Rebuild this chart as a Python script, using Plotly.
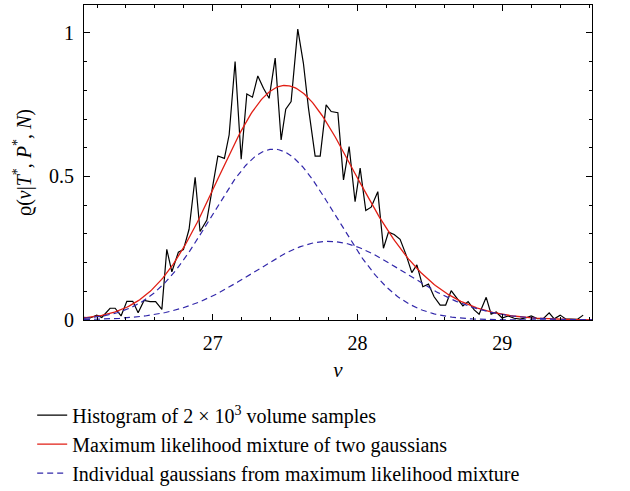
import numpy as np
import plotly.graph_objects as go

# Histogram of volume samples
hist_v = [26.111, 26.152, 26.198, 26.233, 26.290, 26.325, 26.366, 26.406, 26.447, 26.484,
          26.525, 26.567, 26.605, 26.648, 26.682, 26.717, 26.762, 26.797, 26.836, 26.878,
          26.912, 26.959, 27.035, 27.080, 27.113, 27.154, 27.196, 27.235, 27.274, 27.311,
          27.350, 27.389, 27.431, 27.472, 27.504, 27.541, 27.587, 27.626, 27.661, 27.707,
          27.742, 27.783, 27.818, 27.864, 27.903, 27.942, 27.983, 28.018, 28.057, 28.094,
          28.140, 28.179, 28.214, 28.253, 28.294, 28.336, 28.375, 28.410, 28.451, 28.490,
          28.529, 28.571, 28.609, 28.647, 28.686, 28.728, 28.764, 28.806, 28.840, 28.889,
          28.923, 28.958, 28.999, 29.041, 29.082, 29.124, 29.165, 29.200, 29.241, 29.283,
          29.324, 29.359, 29.400, 29.441, 29.476, 29.518, 29.559]
hist_rho = [0.009, 0.007, 0.017, 0.009, 0.041, 0.041, 0.014, 0.065, 0.065, 0.025,
            0.068, 0.064, 0.064, 0.037, 0.246, 0.168, 0.236, 0.245, 0.316, 0.497,
            0.308, 0.348, 0.571, 0.563, 0.645, 0.900, 0.560, 0.787, 0.776, 0.850,
            0.807, 0.772, 0.912, 0.627, 0.734, 0.761, 1.013, 0.894, 0.738, 0.571,
            0.571, 0.749, 0.726, 0.722, 0.488, 0.604, 0.412, 0.529, 0.381, 0.393,
            0.447, 0.250, 0.306, 0.298, 0.281, 0.226, 0.165, 0.192, 0.116, 0.125,
            0.081, 0.052, 0.052, 0.102, 0.076, 0.049, 0.064, 0.035, 0.020, 0.079,
            0.020, 0.028, 0.007, 0.014, 0.006, 0.003, 0.008, 0.014, 0.005, 0.005,
            0.025, 0.004, 0.017, 0.003, 0.003, 0.002, 0.017]

# Maximum-likelihood mixture components (amplitude, mean, sigma)
gauss_amp = [0.595, 0.274]
gauss_mu = [27.42, 27.80]
gauss_sigma = [0.43, 0.52]

x_range = [26.11, 29.62]
y_range = [0, 1.097]
x_ticks = [27, 28, 29]
y_ticks = [0, 0.5, 1]
y_ticklabels = ["0", "0.5", "1"]

v = np.linspace(x_range[0], x_range[1], 400)
comps = [a * np.exp(-(v - m) ** 2 / (2 * s ** 2)) for a, m, s in zip(gauss_amp, gauss_mu, gauss_sigma)]
mix = comps[0] + comps[1]

FONT = "Liberation Serif"
FS = 20
fig = go.Figure()
fig.add_trace(go.Scatter(x=hist_v, y=hist_rho, mode="lines",
                         line=dict(color="black", width=1.2),
                         name="Histogram of 2 × 10<sup>3</sup> volume samples"))
fig.add_trace(go.Scatter(x=v, y=mix, mode="lines",
                         line=dict(color="rgb(225,30,20)", width=1.3),
                         name="Maximum likelihood mixture of two gaussians"))
for i, c in enumerate(comps):
    fig.add_trace(go.Scatter(x=v, y=c, mode="lines",
                             line=dict(color="rgb(50,40,170)", width=1.2, dash="6px,4px"),
                             name="Individual gaussians from maximum likelihood mixture",
                             legendgroup="g", showlegend=(i == 0)))

axis_common = dict(showgrid=False, zeroline=False, showline=True, linecolor="black",
                   linewidth=1, mirror="ticks", ticks="inside", ticklen=6,
                   tickcolor="black", ticklabelstandoff=5,
                   tickfont=dict(family=FONT, size=FS, color="black"))
fig.update_xaxes(range=x_range, tickvals=x_ticks, ticktext=[str(t) for t in x_ticks],
                 minor=dict(ticks="inside", dtick=0.2, tick0=27, ticklen=3, tickcolor="black"),
                 title=dict(text="<i>v</i>", font=dict(family=FONT, size=FS + 1, color="black"), standoff=9),
                 **axis_common)
fig.update_yaxes(range=y_range, tickvals=y_ticks, ticktext=y_ticklabels,
                 minor=dict(ticks="inside", dtick=0.1, tick0=0, ticklen=3, tickcolor="black"),
                 title=dict(text="ϱ(<i>v</i>|<i>T</i><sup>*</sup>, <i>P</i><sup>*</sup>, <i>N</i>)",
                            font=dict(family=FONT, size=FS, color="black"), standoff=12),
                 **axis_common)

fig.update_layout(width=630, height=491, autosize=False,
                  margin=dict(l=84, r=38, t=5, b=171, autoexpand=False),
                  plot_bgcolor="white", paper_bgcolor="white",
                  font=dict(family=FONT, size=FS, color="black"),
                  legend=dict(x=-0.102, y=-0.24, xanchor="left", yanchor="top",
                              font=dict(family=FONT, size=FS, color="black"),
                              bgcolor="rgba(0,0,0,0)", itemwidth=30, tracegroupgap=0))

fig.write_html("out.html")
